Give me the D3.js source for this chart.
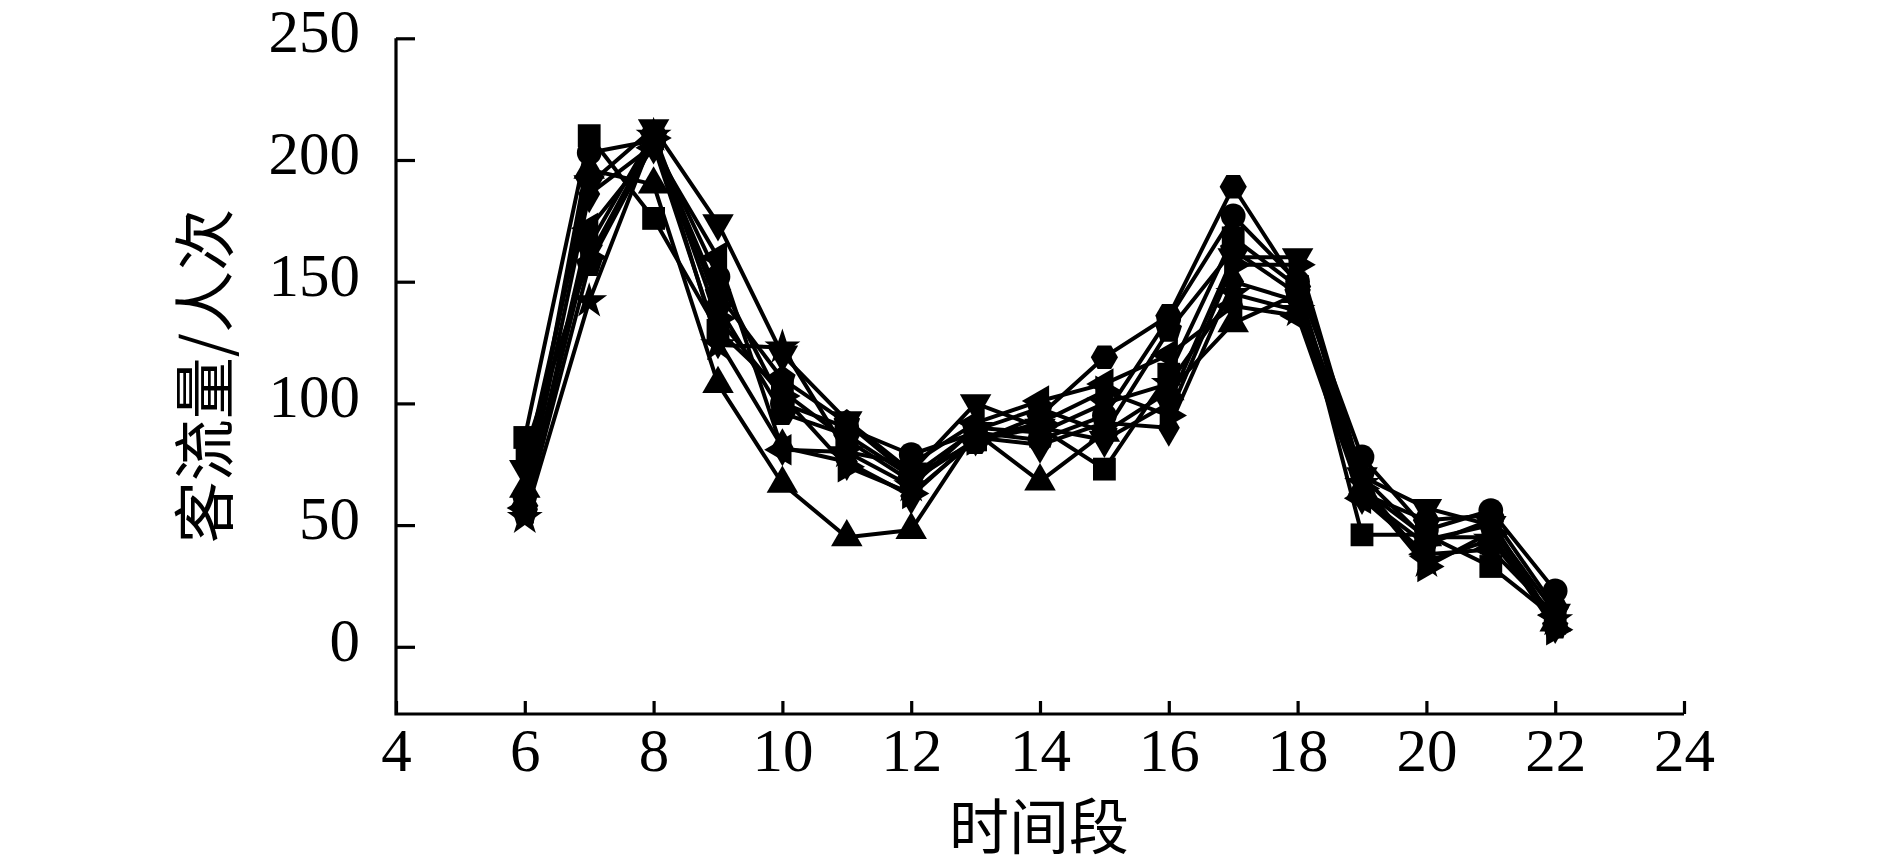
<!DOCTYPE html>
<html>
<head>
<meta charset="utf-8">
<script src="https://cdn.jsdelivr.net/npm/d3@7"></script>
<style>
  body { margin: 0; background: #fff; }
  text { fill: #000; }
</style>
</head>
<body>
<div id="chart"></div>
<script>
var hours = [6, 7, 8, 9, 10, 11, 12, 13, 14, 15, 16, 17, 18, 19, 20, 21, 22];
var xTicks = [4, 6, 8, 10, 12, 14, 16, 18, 20, 22, 24];
var yTicks = [0, 50, 100, 150, 200, 250];

var seriesSquare   = [86, 210, 176, 130, 105, 85, 68, 85, 90, 73, 112, 168, 148, 46, 46, 33, 12];
var seriesCircle   = [62, 203, 208, 152, 100, 90, 79, 88, 85, 95, 135, 177, 150, 78, 48, 56, 23];
var seriesTriUp    = [65, 196, 190, 108, 67, 45, 48, 88, 68, 88, 105, 133, 145, 65, 45, 45, 10];
var seriesTriDown  = [73, 190, 213, 174, 120, 93, 72, 100, 90, 85, 100, 160, 160, 70, 57, 50, 14];
var seriesDiamond  = [60, 186, 206, 126, 82, 76, 62, 86, 83, 92, 90, 150, 142, 62, 42, 52, 9];
var seriesStar     = [53, 142, 210, 124, 123, 80, 66, 90, 88, 100, 108, 145, 138, 67, 35, 44, 11];
var seriesHexagon  = [58, 165, 211, 140, 96, 87, 70, 84, 95, 119, 136, 189, 148, 63, 52, 54, 16];
var seriesTriLeft  = [57, 172, 205, 160, 81, 80, 75, 92, 101, 108, 120, 140, 136, 61, 38, 40, 13];
var seriesTriRight = [80, 160, 209, 135, 103, 74, 63, 85, 92, 105, 95, 157, 157, 65, 33, 47, 7];
var seriesPentagon = [55, 157, 207, 145, 110, 92, 70, 89, 98, 88, 130, 163, 145, 70, 44, 50, 8];

var allSeries = [seriesSquare, seriesCircle, seriesTriUp, seriesTriDown, seriesDiamond,
    seriesStar, seriesHexagon, seriesTriLeft, seriesTriRight, seriesPentagon];

// regular polygon marker
function polygon(n, offset) {
    return {
        draw: function (context, size) {
            var r = Math.sqrt(size / (n / 2 * Math.sin(2 * Math.PI / n)));
            for (var i = 0; i < n; i++) {
                var a = offset + i * 2 * Math.PI / n;
                if (i === 0) context.moveTo(r * Math.cos(a), r * Math.sin(a));
                else context.lineTo(r * Math.cos(a), r * Math.sin(a));
            }
            context.closePath();
        }
    };
}

var markers = [
    { type: d3.symbolSquare, rotate: 0, size: 520 },
    { type: d3.symbolCircle, rotate: 0, size: 480 },
    { type: d3.symbolTriangle, rotate: 0, size: 430 },
    { type: d3.symbolTriangle, rotate: 180, size: 430 },
    { type: d3.symbolDiamond, rotate: 0, size: 420 },
    { type: d3.symbolStar, rotate: 0, size: 400 },
    { type: polygon(6, 0), rotate: 0, size: 480 },
    { type: d3.symbolTriangle, rotate: -90, size: 430 },
    { type: d3.symbolTriangle, rotate: 90, size: 430 },
    { type: polygon(5, -Math.PI / 2), rotate: 0, size: 460 }
];

var width = 1890,
    height = 868;

var xScale = d3.scaleLinear()
    .domain([4, 24])
    .range([396, 1684]);

var yScale = d3.scaleLinear()
    .domain([0, 250])
    .range([646.8, 38.3]);

var axisBottomY = 714;

var svg = d3.select('#chart').append('svg')
    .attr('width', width)
    .attr('height', height)
    .style('background', '#fff');

// axes
var vAxis = d3.axisLeft(yScale)
    .tickValues(yTicks)
    .tickSize(-19)
    .tickPadding(36)
    .tickSizeOuter(0);

var verticalGuide = svg.append('g')
    .attr('transform', 'translate(' + xScale(4) + ', 0)')
    .call(vAxis);
verticalGuide.select('.domain').remove();
verticalGuide.selectAll('line')
    .attr('stroke', '#000')
    .attr('stroke-width', 3.2);
verticalGuide.selectAll('text')
    .attr('font-family', '"Liberation Serif", "Times New Roman", serif')
    .attr('font-size', 61)
    .attr('dy', '0.22em');

var hAxis = d3.axisBottom(xScale)
    .tickValues(xTicks)
    .tickSize(-13)
    .tickPadding(19)
    .tickSizeOuter(0);

var horizontalGuide = svg.append('g')
    .attr('transform', 'translate(0, ' + axisBottomY + ')')
    .call(hAxis);
horizontalGuide.select('.domain').remove();
horizontalGuide.selectAll('line')
    .attr('stroke', '#000')
    .attr('stroke-width', 3.2);
horizontalGuide.selectAll('text')
    .attr('font-family', '"Liberation Serif", "Times New Roman", serif')
    .attr('font-size', 61)
    .attr('dy', '0.62em');

// axis lines
svg.append('path')
    .attr('d', 'M' + xScale(4) + ',' + yScale(250) + 'V' + axisBottomY + 'H' + xScale(24))
    .attr('fill', 'none')
    .attr('stroke', '#000')
    .attr('stroke-width', 3.2);

// lines
var line = d3.line()
    .x(function (d, i) { return xScale(hours[i]); })
    .y(function (d) { return yScale(d); });

svg.append('g').selectAll('path')
    .data(allSeries)
    .enter().append('path')
    .attr('d', line)
    .attr('fill', 'none')
    .attr('stroke', '#000')
    .attr('stroke-width', 4)
    .attr('stroke-linejoin', 'round');

// markers
allSeries.forEach(function (series, k) {
    var m = markers[k];
    var sym = d3.symbol().type(m.type).size(m.size);
    svg.append('g').selectAll('path')
        .data(series)
        .enter().append('path')
        .attr('d', sym)
        .attr('fill', '#000')
        .attr('transform', function (d, i) {
            return 'translate(' + xScale(hours[i]) + ',' + yScale(d) + ') rotate(' + m.rotate + ')';
        });
});

// titles
svg.append('text')
    .attr('x', 1039)
    .attr('y', 849)
    .attr('text-anchor', 'middle')
    .attr('font-family', '"Noto Sans CJK SC", sans-serif')
    .attr('font-size', 60)
    .text('时间段');

svg.append('text')
    .attr('transform', 'translate(228, 376) rotate(-90)')
    .attr('text-anchor', 'middle')
    .attr('font-family', '"Noto Sans CJK SC", sans-serif')
    .attr('font-size', 62)
    .text('客流量/人次');
</script>
</body>
</html>
